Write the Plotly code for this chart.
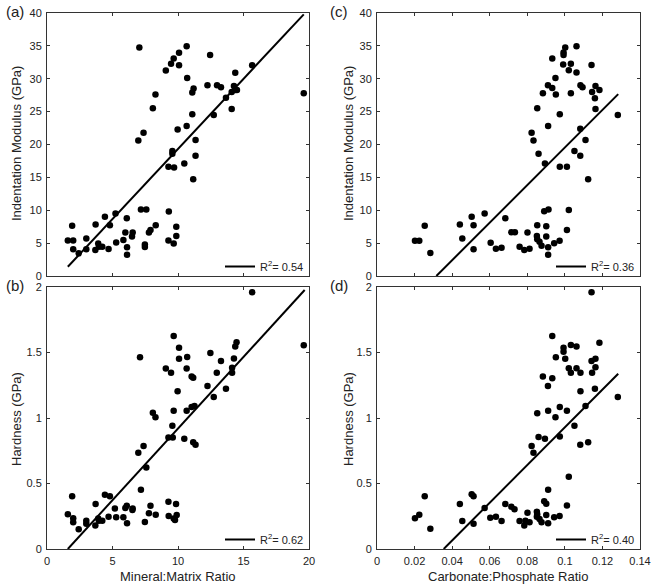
import plotly.graph_objects as go

# ---------------- data ----------------
# (a) Mineral:Matrix ratio vs Indentation modulus (GPa)
a_x = [7.05, 10.66, 10.08, 9.67, 9.47, 10.08, 9.07, 10.7, 8.28, 8.08, 7.37, 6.97, 9.97, 10.66,
       9.57, 9.57, 9.27, 9.7, 10.48, 7.17, 7.58, 9.3, 5.23, 4.42, 4.8, 3.71, 6.09, 1.92, 1.59,
       2.0, 2.0, 2.42, 3.0, 3.0, 3.69, 3.91, 3.96, 4.22, 4.7, 5.28, 5.83, 5.98, 6.11, 6.11,
       6.54, 6.49, 7.47, 7.47, 7.78, 7.9, 8.3, 9.27, 9.67, 9.87, 9.87,
       12.45, 15.66, 14.37, 11.19, 11.09, 12.25, 12.98, 13.28, 14.27, 14.37, 14.1, 14.5,
       13.66, 14.1, 12.73, 11.09, 11.34, 11.34, 11.16, 19.6]
a_y = [34.75, 34.95, 33.94, 33.08, 32.3, 32.07, 31.26, 30.1, 27.6, 25.5, 21.8, 20.6, 22.3, 22.8,
       19.0, 18.6, 16.6, 16.5, 17.1, 10.1, 10.1, 9.8, 9.5, 9.0, 7.7, 7.85, 8.8, 7.65, 5.4,
       5.4, 4.05, 3.45, 5.7, 4.05, 3.95, 4.96, 4.46, 4.46, 4.1, 5.1, 5.47, 6.6, 4.36, 3.24,
       6.6, 6.0, 4.8, 4.4, 6.6, 7.0, 7.7, 5.4, 4.96, 6.1, 7.5,
       33.6, 32.07, 30.9, 28.5, 27.9, 29.0, 29.0, 28.7, 28.9, 28.3, 28.0, 28.3,
       27.1, 25.4, 24.5, 24.6, 20.7, 18.3, 14.7, 27.8]

# (b) Mineral:Matrix ratio vs Hardness (GPa)
b_x = [9.67, 10.08, 10.08, 10.7, 10.66, 7.1, 9.07, 9.47, 9.97, 8.08, 8.28, 9.67, 10.66, 9.57,
       9.27, 9.6, 10.48, 7.37, 6.97, 7.58, 7.17, 1.92, 4.42, 4.8, 3.71, 5.18, 6.09, 5.98,
       6.52, 6.54, 9.27, 9.85, 7.9, 7.78, 8.3, 1.59, 2.0, 2.0, 2.42, 3.0, 3.0, 3.69, 3.91,
       3.96, 4.22, 4.7, 5.28, 5.83, 6.11, 7.47, 9.29, 9.67, 9.9, 9.77,
       15.66, 14.47, 14.37, 14.27, 12.47, 13.28, 11.04, 11.16, 12.96, 14.13, 14.13, 12.25,
       13.66, 12.73, 11.04, 11.26, 11.16, 11.34, 19.6]
b_y = [1.626, 1.537, 1.453, 1.466, 1.377, 1.463, 1.377, 1.346, 1.204, 1.041, 1.005, 1.056,
       1.056, 0.94, 0.852, 0.852, 0.842, 0.786, 0.735, 0.623, 0.453, 0.402, 0.415, 0.402,
       0.343, 0.31, 0.331, 0.313, 0.298, 0.31, 0.361, 0.343, 0.331, 0.272, 0.262, 0.265,
       0.234, 0.204, 0.15, 0.216, 0.193, 0.18, 0.232, 0.216, 0.216, 0.247, 0.242, 0.242,
       0.196, 0.206, 0.252, 0.232, 0.26, 0.221,
       1.959, 1.578, 1.545, 1.455, 1.496, 1.435, 1.316, 1.308, 1.346, 1.384, 1.346, 1.244,
       1.224, 1.16, 1.084, 1.092, 0.814, 0.796, 1.555]

# (c) Carbonate:Phosphate ratio vs Indentation modulus (GPa)
c_x = [0.0202, 0.0225, 0.0254, 0.0284, 0.0441, 0.0454, 0.0504, 0.0514, 0.0514, 0.0573,
       0.0605, 0.0633, 0.0663, 0.0683, 0.0715, 0.0734, 0.0759,
       0.1002, 0.1062, 0.0993, 0.0993, 0.0933, 0.1142, 0.0991, 0.1032, 0.1021, 0.1062,
       0.0950, 0.0910, 0.0933, 0.0952, 0.0883, 0.1032, 0.1083, 0.1094, 0.1163, 0.1184,
       0.1145, 0.1160, 0.1163, 0.0853, 0.0973, 0.1282, 0.0911, 0.1082, 0.0823, 0.0833,
       0.1110, 0.0860, 0.1051, 0.1082, 0.0894, 0.0973, 0.1011, 0.1124, 0.0890, 0.0913,
       0.1021, 0.0853, 0.0901, 0.0801, 0.1011, 0.0851, 0.0853, 0.0901, 0.0865, 0.0876,
       0.0972, 0.0943, 0.0911, 0.0911, 0.0784, 0.0812]
c_y = [5.37, 5.37, 7.65, 3.5, 7.85, 5.72, 9.0, 7.7, 4.05, 9.52, 5.07, 4.15, 4.3, 8.8, 6.64,
       6.64, 4.46,
       34.75, 34.95, 34.0, 33.6, 33.08, 32.1, 32.17, 32.3, 31.3, 30.95, 30.1, 29.0, 28.6,
       27.6, 27.8, 27.8, 29.0, 28.7, 28.9, 28.3, 28.0, 27.05, 25.4, 25.5, 24.6, 24.5, 22.8,
       22.4, 21.8, 20.6, 20.7, 18.6, 19.0, 18.3, 17.1, 16.6, 16.6, 14.7, 9.83, 10.1, 10.03,
       7.7, 7.55, 6.6, 7.0, 6.1, 5.6, 6.0, 5.2, 4.6, 5.37, 5.0, 4.36, 3.24, 3.95, 4.15]

# (d) Carbonate:Phosphate ratio vs Hardness (GPa)
d_x = [0.0254, 0.0202, 0.0225, 0.0284, 0.0441, 0.0454, 0.0504, 0.0514, 0.0514, 0.0573,
       0.0603, 0.0633, 0.0663, 0.0683, 0.0715, 0.0732, 0.0759,
       0.1142, 0.0933, 0.1032, 0.1062, 0.0993, 0.1184, 0.0993, 0.1002, 0.0952, 0.1142,
       0.1163, 0.1021, 0.1032, 0.1062, 0.1083, 0.1145, 0.1163, 0.0883, 0.0933, 0.0910,
       0.1083, 0.1160, 0.1282, 0.1110, 0.0973, 0.0911, 0.1011, 0.0853, 0.0950, 0.1051,
       0.0860, 0.0894, 0.0973, 0.0823, 0.0833, 0.1124, 0.1082, 0.1021, 0.0911, 0.0890,
       0.0901, 0.1011, 0.0801, 0.0851, 0.0853, 0.0901, 0.0851, 0.0865, 0.0876, 0.0911,
       0.0943, 0.0972, 0.0784, 0.0812, 0.0790]
d_y = [0.402, 0.234, 0.262, 0.155, 0.343, 0.214, 0.417, 0.402, 0.193, 0.313, 0.239, 0.247,
       0.214, 0.343, 0.323, 0.303, 0.214,
       1.959, 1.626, 1.557, 1.545, 1.537, 1.575, 1.506, 1.453, 1.463, 1.435, 1.453, 1.379,
       1.346, 1.379, 1.346, 1.346, 1.387, 1.316, 1.303, 1.244, 1.204, 1.224, 1.16, 1.092,
       1.084, 1.056, 1.056, 1.036, 1.005, 0.941, 0.855, 0.842, 0.858, 0.786, 0.735, 0.814,
       0.796, 0.552, 0.453, 0.364, 0.346, 0.333, 0.277, 0.285, 0.265, 0.26, 0.247, 0.229,
       0.204, 0.196, 0.242, 0.252, 0.18, 0.204, 0.216]

# linear-fit lines (end points)
fit_a_x, fit_a_y = [1.59, 19.6], [1.4, 39.8]
fit_b_x, fit_b_y = [1.59, 19.67], [0.0, 1.977]
fit_c_x, fit_c_y = [0.0316, 0.1284], [0.0, 27.66]
fit_d_x, fit_d_y = [0.0355, 0.1284], [0.0, 1.338]
r2_labels = ["0.54", "0.62", "0.36", "0.40"]

panel_labels = ["(a)", "(b)", "(c)", "(d)"]
x_titles = ["Mineral:Matrix Ratio", "Carbonate:Phosphate Ratio"]
y_titles = ["Indentation Modulus (GPa)", "Hardness (GPa)"]

# ---------------- figure ----------------
W, H = 656, 586
FONT = "Liberation Sans, Arial, Helvetica, sans-serif"
TXT = "#222222"
AX = "#333333"

fig = go.Figure()

panels = [
    (a_x, a_y, fit_a_x, fit_a_y, "x", "y", "legend"),
    (b_x, b_y, fit_b_x, fit_b_y, "x2", "y2", "legend2"),
    (c_x, c_y, fit_c_x, fit_c_y, "x3", "y3", "legend3"),
    (d_x, d_y, fit_d_x, fit_d_y, "x4", "y4", "legend4"),
]
for i, (px, py, fx, fy, xa, ya, lg) in enumerate(panels):
    fig.add_trace(go.Scatter(x=px, y=py, mode="markers", xaxis=xa, yaxis=ya,
                             marker=dict(color="black", size=6.5), showlegend=False,
                             cliponaxis=True))
    fig.add_trace(go.Scatter(x=fx, y=fy, mode="lines", xaxis=xa, yaxis=ya,
                             line=dict(color="black", width=2), legend=lg,
                             name="R<sup>2</sup>= " + r2_labels[i], showlegend=True))

left_dom = [47 / W, 309 / W]
right_dom = [377 / W, 640 / W]
top_dom = [1 - 276 / H, 1 - 13 / H]
bot_dom = [1 - 549 / H, 1 - 287 / H]

def axis(domain, rng, dtick, anchor, labels=True):
    return dict(domain=domain, range=rng, dtick=dtick, tick0=0, anchor=anchor,
                showgrid=False, zeroline=False, showline=True, linecolor=AX, linewidth=1,
                mirror="ticks", ticks="inside", ticklen=3, tickcolor=AX, tickwidth=1,
                showticklabels=labels, tickfont=dict(family=FONT, size=11, color=TXT),
                ticklabelstandoff=2, automargin=False)

fig.update_layout(
    width=W, height=H, margin=dict(l=0, r=0, t=0, b=0),
    paper_bgcolor="white", plot_bgcolor="white",
    font=dict(family=FONT, color=TXT),
    xaxis=axis(left_dom, [0, 20], 5, "y", labels=False),
    yaxis=axis(top_dom, [0, 40], 5, "x"),
    xaxis2=axis(left_dom, [0, 20], 5, "y2"),
    yaxis2=axis(bot_dom, [0, 2], 0.5, "x2"),
    xaxis3=axis(right_dom, [0, 0.14], 0.02, "y3", labels=False),
    yaxis3=axis(top_dom, [0, 40], 5, "x3"),
    xaxis4=axis(right_dom, [0, 0.14], 0.02, "y4"),
    yaxis4=axis(bot_dom, [0, 2], 0.5, "x4"),
)

leg_dy = 5 / H
leg_common = dict(xanchor="right", yanchor="bottom", bgcolor="rgba(0,0,0,0)",
                  borderwidth=0, font=dict(family=FONT, size=11, color=TXT),
                  itemwidth=30, tracegroupgap=0)
fig.update_layout(
    legend=dict(x=left_dom[1], y=top_dom[0] - leg_dy, **leg_common),
    legend2=dict(x=left_dom[1], y=bot_dom[0] - leg_dy, **leg_common),
    legend3=dict(x=right_dom[1], y=top_dom[0] - leg_dy, **leg_common),
    legend4=dict(x=right_dom[1], y=bot_dom[0] - leg_dy, **leg_common),
)

ann = []
# panel labels
for lab, (xc, yc) in zip(panel_labels, [(15, 12), (15, 285), (339, 12), (339, 285)]):
    ann.append(dict(text=lab, x=xc / W, y=1 - yc / H, xref="paper", yref="paper",
                    showarrow=False, font=dict(family=FONT, size=15, color=TXT),
                    xanchor="center", yanchor="middle"))
# y titles
for t, (xc, yc) in zip([y_titles[0], y_titles[1], y_titles[0], y_titles[1]],
                       [(16, 144), (16, 419), (348, 144), (348, 419)]):
    ann.append(dict(text=t, x=xc / W, y=1 - yc / H, xref="paper", yref="paper",
                    showarrow=False, textangle=-90, font=dict(family=FONT, size=13, color=TXT),
                    xanchor="center", yanchor="middle"))
# x titles
for t, xc in zip(x_titles, [178, 508]):
    ann.append(dict(text=t, x=xc / W, y=1 - 576 / H, xref="paper", yref="paper",
                    showarrow=False, font=dict(family=FONT, size=13, color=TXT),
                    xanchor="center", yanchor="middle"))
fig.update_layout(annotations=ann)

fig.write_html("out.html", config={"displayModeBar": False},
               post_script="document.body.style.margin='0px';document.body.style.overflow='hidden';")
